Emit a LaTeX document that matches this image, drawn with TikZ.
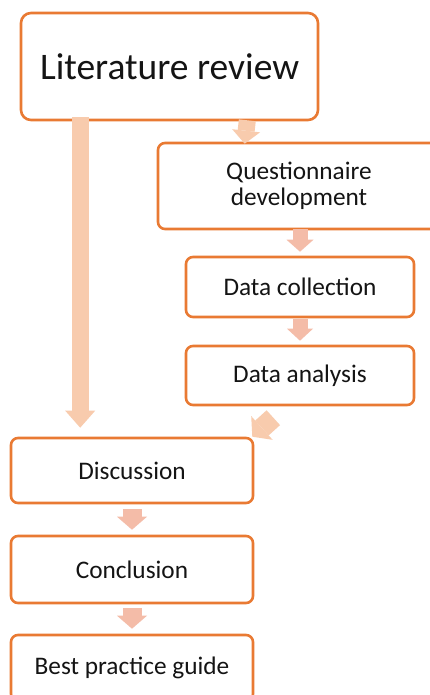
\documentclass[tikz,border=0pt]{standalone}
\usepackage{fontspec}
\setmainfont{Carlito}
\usetikzlibrary{arrows.meta}
\definecolor{boxorange}{HTML}{E97A33}
\definecolor{peach}{HTML}{F8CBAD}
\definecolor{salmon}{HTML}{F4BCA8}
\definecolor{txt}{HTML}{141414}
\begin{document}
\begin{tikzpicture}[x=1pt,y=-1pt,
  box/.style={draw=boxorange, line width=2.6pt, rounded corners=7pt, fill=white,
    text=txt, font=\fontsize{25.3}{26.5}\selectfont, align=center, inner sep=0pt},
  blockarrow/.style n args={4}{draw=#1, line width=#2,
    -{Triangle[width=#3, length=#4, line width=0pt, fill=#1]}}]
\useasboundingbox (0,0) rectangle (429,695);
\fill[white] (0,0) rectangle (429,695);

\node[box, minimum width=297pt, minimum height=107pt, rounded corners=10pt,
  font=\fontsize{37.5}{40}\selectfont] (lit) at (169.5,66.5) {Literature review};
\node[box, minimum width=282pt, minimum height=86pt] (quest) at (299,186) {Questionnaire\\development};
\node[box, minimum width=228pt, minimum height=60pt] (dc) at (300,287) {Data collection};
\node[box, minimum width=228pt, minimum height=59pt] (da) at (300,375.5) {Data analysis};
\node[box, minimum width=242pt, minimum height=65pt] (disc) at (132,470.5) {Discussion};
\node[box, minimum width=242pt, minimum height=67pt] (conc) at (132,569.5) {Conclusion};
\node[box, minimum width=242pt, minimum height=66pt] (best) at (132,668) {Best practice guide};

\coordinate (dtip) at ([xshift=-2pt]disc.north east);
\coordinate (dtail) at ([xshift=21pt,yshift=19pt]dtip);

\draw[blockarrow={peach}{17pt}{30pt}{17pt}]
  ([xshift=60.5pt,yshift=4pt]lit.south west) -- ([xshift=70.5pt,yshift=9pt]disc.north west);
\draw[blockarrow={peach}{17pt}{28pt}{13pt}]
  ([xshift=-72pt,yshift=1pt]lit.south east) -- ([xshift=88pt,yshift=-2pt]quest.north west);
\draw[blockarrow={salmon}{15pt}{27pt}{12pt}]
  ([yshift=1pt]quest.south -| dc.north) -- ([yshift=4pt]dc.north);
\draw[blockarrow={salmon}{15pt}{26pt}{12pt}]
  ([yshift=-1pt]dc.south) -- ([yshift=4pt]da.north);
\draw[blockarrow={peach}{20pt}{32pt}{13pt}] (dtail) -- (dtip);
\draw[blockarrow={salmon}{19pt}{30pt}{13pt}]
  ([yshift=-5pt]disc.south) -- ([yshift=5pt]conc.north);
\draw[blockarrow={salmon}{19pt}{30pt}{13pt}]
  ([yshift=-4pt]conc.south) -- ([yshift=5pt]best.north);
\end{tikzpicture}
\end{document}
